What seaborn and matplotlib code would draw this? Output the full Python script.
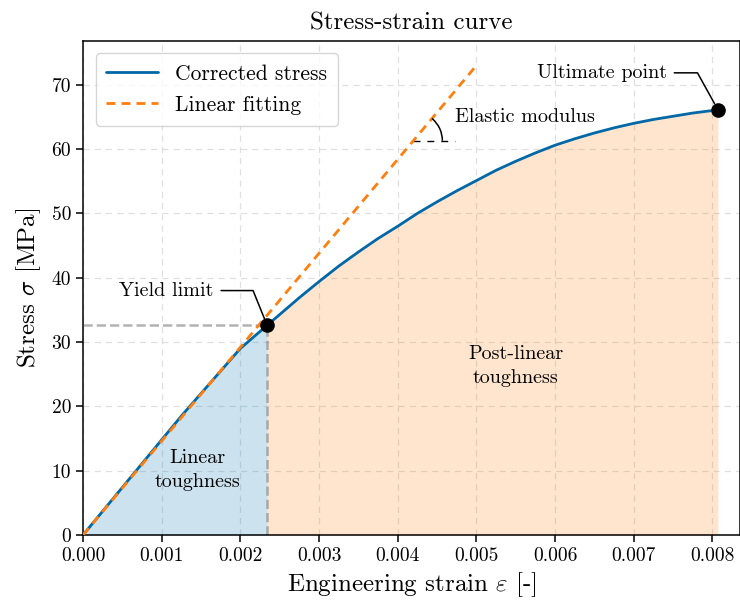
import numpy as np
import pandas as pd
import matplotlib
matplotlib.use("Agg")
import matplotlib.pyplot as plt
import seaborn as sns
from matplotlib.patches import Arc

# ---------------- data ----------------
strain = [0, 0.00025, 0.0005, 0.00075, 0.001, 0.00125, 0.0015, 0.00175, 0.002,
          0.00234, 0.00275, 0.003, 0.00325, 0.0035, 0.00375, 0.004, 0.00425,
          0.0045, 0.00475, 0.005, 0.00525, 0.0055, 0.00575, 0.006, 0.00625,
          0.0065, 0.00675, 0.007, 0.00725, 0.0075, 0.00775, 0.00807]
stress = [0, 3.7, 7.4, 11.1, 14.8, 18.5, 22.0, 25.5, 29.0,
          32.6, 36.9, 39.4, 41.8, 44.0, 46.1, 48.0, 50.0,
          51.8, 53.5, 55.1, 56.7, 58.1, 59.4, 60.6, 61.6,
          62.5, 63.3, 64.0, 64.6, 65.1, 65.6, 66.1]
fit_strain = [0, 0.005]
fit_stress = [0, 73.0]
yield_strain, yield_stress = 0.00234, 32.6
ult_strain, ult_stress = 0.00807, 66.1
x_ticks = [0, 0.001, 0.002, 0.003, 0.004, 0.005, 0.006, 0.007, 0.008]
y_ticks = [0, 10, 20, 30, 40, 50, 60, 70]

df = pd.DataFrame({"strain": strain, "stress": stress})
df_fit = pd.DataFrame({"strain": fit_strain, "stress": fit_stress})

# ---------------- style ----------------
sns.set_theme(style="ticks")
plt.rcParams["font.family"] = ["serif"]
plt.rcParams["font.serif"] = ["cmr10", "DejaVu Serif"]
plt.rcParams["mathtext.fontset"] = "cm"
plt.rcParams["axes.formatter.use_mathtext"] = True
plt.rcParams["axes.unicode_minus"] = False
for k in ["text.color", "axes.labelcolor", "xtick.color", "ytick.color", "axes.edgecolor"]:
    plt.rcParams[k] = "black"

BLUE = "#0068a6"
ORANGE = "#ff7f0e"

fig = plt.figure(figsize=(7.4, 6.05), dpi=100)
ax = fig.add_axes([83 / 740, 1 - 535 / 605, (740 - 83) / 740, (535 - 41) / 605])

ax.set_xlim(0, 0.00835)
ax.set_ylim(0, 76.8)

# fills
lin = df[df["strain"] <= yield_strain]
post = df[df["strain"] >= yield_strain]
ax.fill_between(lin["strain"], 0, lin["stress"], color="#0173b2", alpha=0.2, lw=0, zorder=1)
ax.fill_between(post["strain"], 0, post["stress"], color=ORANGE, alpha=0.2, lw=0, zorder=1)

# yield guide lines
ax.plot([yield_strain, yield_strain], [0, yield_stress], ls="--", color="gray", alpha=0.6, lw=1.8, zorder=2)
ax.plot([0, yield_strain], [yield_stress, yield_stress], ls="--", color="gray", alpha=0.6, lw=1.8, zorder=2)

sns.lineplot(data=df, x="strain", y="stress", ax=ax, color=BLUE, lw=2.0,
             label="Corrected stress", zorder=4)
sns.lineplot(data=df_fit, x="strain", y="stress", ax=ax, color=ORANGE, lw=2.0,
             ls=(0, (3.2, 2.2)), label="Linear fitting", zorder=5)

ax.plot([yield_strain], [yield_stress], "o", color="black", ms=9.5, zorder=6)
ax.plot([ult_strain], [ult_stress], "o", color="black", ms=9.5, zorder=6, clip_on=False)

# grid / spines
ax.grid(True, ls=(0, (5, 4)), color="#d8d8d8", lw=0.9, alpha=0.8)
ax.set_axisbelow(True)
for s in ax.spines.values():
    s.set_color("black")
    s.set_linewidth(1.1)
ax.tick_params(axis="both", which="both", direction="out", length=5, width=1.1,
               labelsize=14, top=False, right=False, colors="black")
ax.set_xticks(x_ticks)
ax.set_yticks(y_ticks)
ax.set_xticklabels([f"{v:.3f}" for v in x_ticks])
ax.set_yticklabels([str(v) for v in y_ticks])

ax.set_xlabel(r"Engineering strain $\varepsilon$ [-]", fontsize=18, labelpad=4)
ax.set_ylabel(r"Stress $\sigma$ [MPa]", fontsize=18, labelpad=6)
ax.set_title("Stress-strain curve", fontsize=18, pad=8)

leg = ax.legend(loc="upper left", fontsize=15.5, frameon=True, fancybox=True,
                framealpha=0.8, edgecolor="#cccccc", handlelength=2.4,
                borderpad=0.5, labelspacing=0.55, bbox_to_anchor=(0.003, 0.997))

# annotations
FS = 14.5
ax.annotate("Yield limit", xy=(yield_strain, yield_stress), xytext=(0.00166, 38.0),
            ha="right", va="center", fontsize=FS,
            arrowprops=dict(arrowstyle="-", color="black", lw=1.1,
                            connectionstyle="angle,angleA=0,angleB=112,rad=0",
                            shrinkA=3, shrinkB=5))
ax.annotate("Ultimate point", xy=(ult_strain, ult_stress), xytext=(0.00742, 71.85),
            ha="right", va="center", fontsize=FS,
            arrowprops=dict(arrowstyle="-", color="black", lw=1.1,
                            connectionstyle="angle,angleA=0,angleB=119,rad=0",
                            shrinkA=3, shrinkB=5))

ax.text(0.00146, 10.1, "Linear\ntoughness", ha="center", va="center", fontsize=FS,
        linespacing=1.45)
ax.text(0.0055, 26.3, "Post-linear\ntoughness", ha="center", va="center", fontsize=FS,
        linespacing=1.45)

# elastic modulus angle marker
slope = fit_stress[1] / fit_strain[1]
y_ref = 61.3
x_ref = y_ref / slope
ax.plot([x_ref, x_ref + 0.00053], [y_ref, y_ref], color="black", lw=1.0, ls=(0, (5, 5)), zorder=3)
ax.text(0.00473, 65.0, "Elastic modulus", ha="left", va="center", fontsize=FS)
fig.canvas.draw()
cx, cy = ax.transData.transform((x_ref, y_ref))
p0 = ax.transData.transform((0, 0))
p1 = ax.transData.transform((fit_strain[1], fit_stress[1]))
ang = np.degrees(np.arctan2(p1[1] - p0[1], p1[0] - p0[0]))
arc = Arc((cx, cy), 58, 58, theta1=0, theta2=ang, transform=None, color="black", lw=1.1)
fig.add_artist(arc)

fig.savefig("out.png", dpi=100)
